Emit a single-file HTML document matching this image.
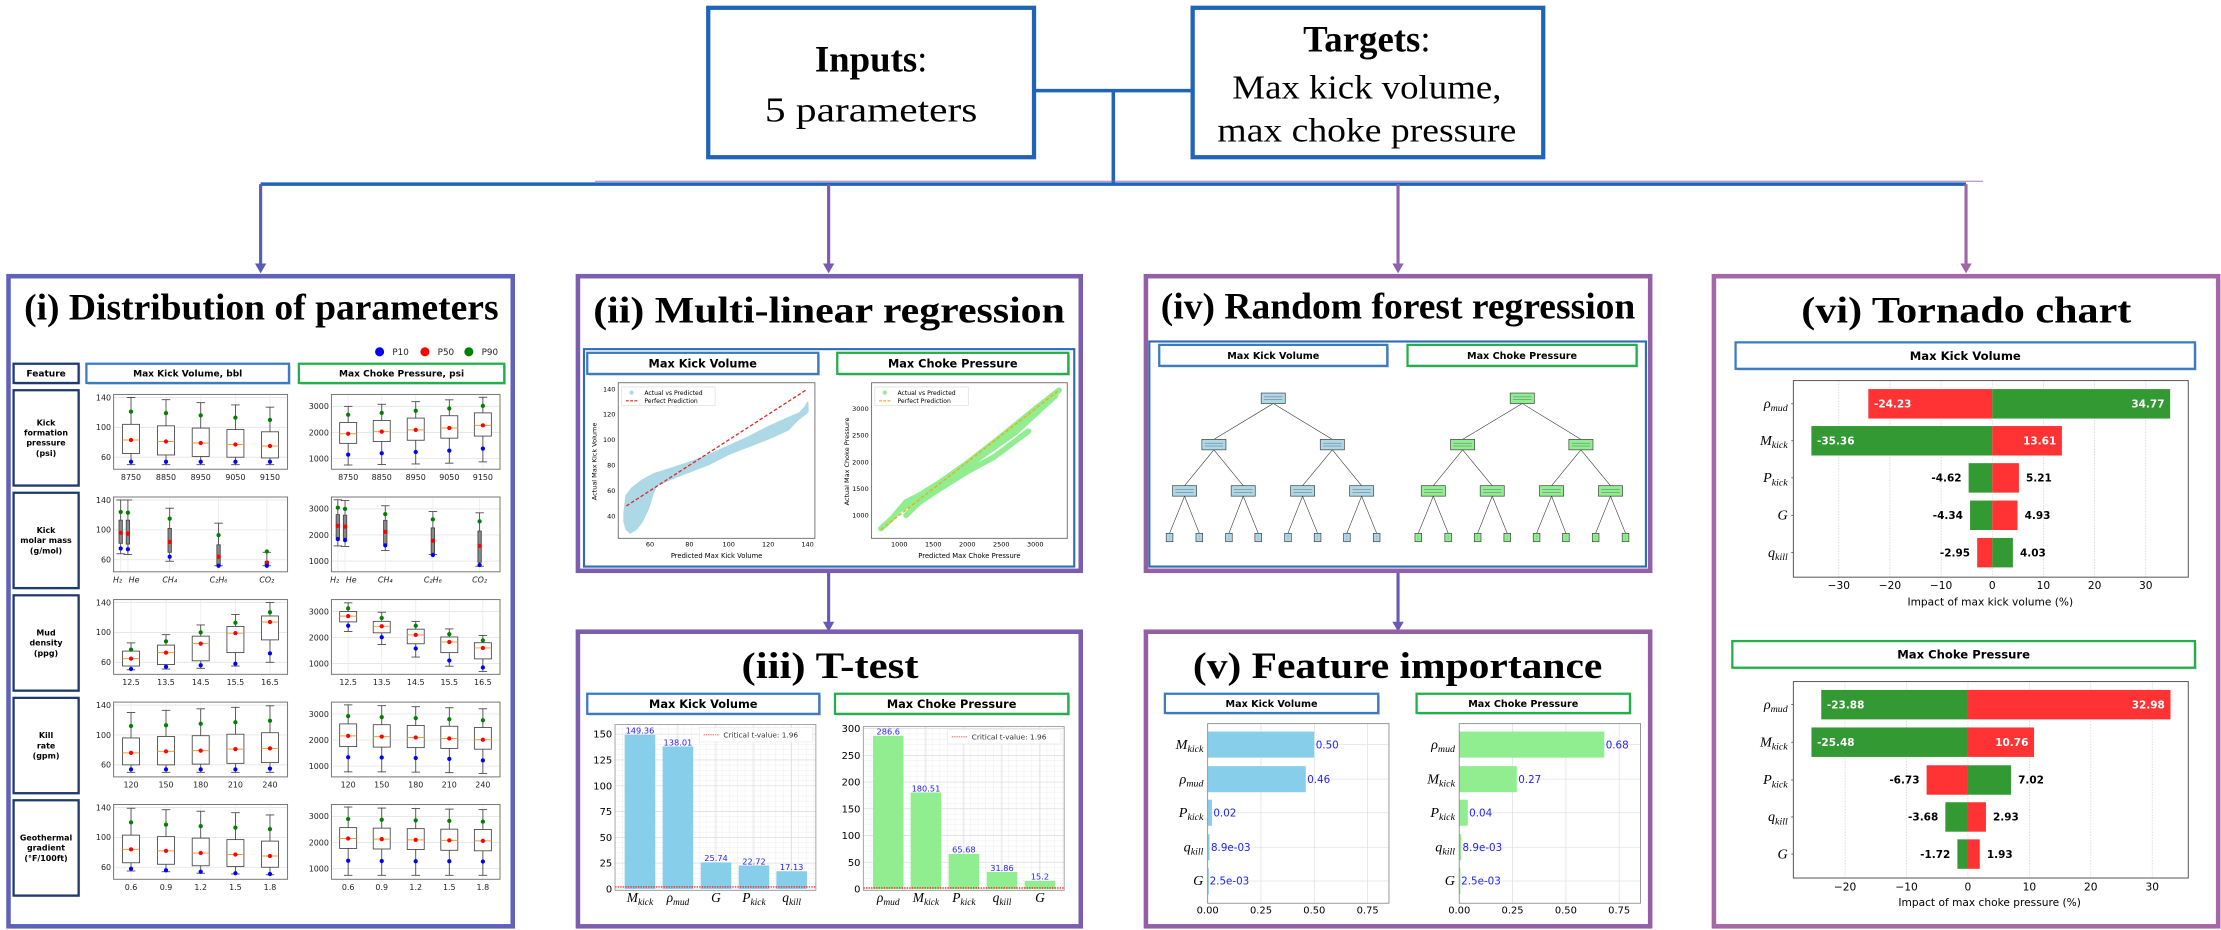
<!DOCTYPE html>
<html><head><meta charset="utf-8">
<style>
html,body{margin:0;padding:0;background:#fff;}
svg{display:block;}
text{font-family:"DejaVu Sans","Liberation Sans",sans-serif;}
.tm{font-family:"Liberation Serif","DejaVu Serif",serif;}
</style></head>
<body>
<svg id="s" xmlns="http://www.w3.org/2000/svg" width="2221" height="930" viewBox="0 0 1568 656.6" preserveAspectRatio="none">
<rect x="0" y="0" width="1568" height="656.6" fill="#fff"/>
<rect x="500" y="5.5" width="230" height="105.5" fill="#fff" stroke="#1f64b8" stroke-width="3"/>
<rect x="842" y="5.5" width="247.5" height="105.5" fill="#fff" stroke="#1f64b8" stroke-width="3"/>
<text class="tm" x="615" y="50.6" font-size="26" text-anchor="middle"><tspan font-weight="bold">Inputs</tspan>:</text>
<text class="tm" x="615" y="85.9" font-size="25" text-anchor="middle" textLength="150" lengthAdjust="spacingAndGlyphs">5 parameters</text>
<text class="tm" x="965" y="36.5" font-size="26" text-anchor="middle"><tspan font-weight="bold">Targets</tspan>:</text>
<text class="tm" x="965" y="69.4" font-size="24" text-anchor="middle" textLength="190" lengthAdjust="spacingAndGlyphs">Max kick volume,</text>
<text class="tm" x="965" y="100" font-size="24" text-anchor="middle" textLength="211" lengthAdjust="spacingAndGlyphs">max choke pressure</text>
<line x1="731" y1="64" x2="841" y2="64" stroke="#1f64b8" stroke-width="2.5"/>
<line x1="786" y1="64" x2="786" y2="130" stroke="#1f64b8" stroke-width="2.5"/>
<line x1="184" y1="130" x2="1388" y2="130" stroke="#1f64b8" stroke-width="2.5"/>
<line x1="420" y1="128" x2="1400" y2="128" stroke="#8a64b4" stroke-width="1" opacity="0.6"/>
</svg>
<script>
const S=document.getElementById('s');const NS='http://www.w3.org/2000/svg';
function el(t,a,p){const e=document.createElementNS(NS,t);for(const k in a)e.setAttribute(k,a[k]);(p||S).appendChild(e);return e;}
function tx(x,y,s,sz,a){a=a||{};a.x=x;a.y=y;a['font-size']=sz;const e=el('text',a);e.textContent=s;return e;}
function line(x1,y1,x2,y2,c,w,extra){const a={x1,y1,x2,y2,stroke:c,'stroke-width':w};if(extra)Object.assign(a,extra);return el('line',a);}
function rect(x,y,w,h,f,st,sw,extra){const a={x,y,width:w,height:h,fill:f,stroke:st||'none','stroke-width':sw||0};if(extra)Object.assign(a,extra);return el('rect',a);}
function arrowDown(x,y1,y2,c){line(x,y1,x,y2-5,c,2.2);el('polygon',{points:`${x-4},${y2-7} ${x+4},${y2-7} ${x},${y2}`,fill:c});}
function math(x,y,sym,sub,sz,anchor){const e=el('text',{x,y,'font-size':sz,'text-anchor':anchor||'end','font-style':'italic',class:'tm'});const a=el('tspan',{},e);a.textContent=sym;if(sub){const b=el('tspan',{'font-size':sz*0.7,dy:sz*0.22},e);b.textContent=sub;}return e;}
function hbox(x,y,w,h,c,label,sz){rect(x+1.2,y+1.2,w,h,'#ccc');rect(x,y,w,h,'#fff',c,1.6);tx(x+w/2,y+h/2+sz*0.36,label,sz,{'text-anchor':'middle','font-weight':'bold'});}

arrowDown(184,130,193,'#5a5ab8');
arrowDown(585,130,193,'#7a5aaf');
arrowDown(987,130,193,'#8f62ad');
arrowDown(1388,130,193,'#a065a8');
arrowDown(585,403,446,'#6a5ab5');
arrowDown(987,403,446,'#6a5ab5');

function panel(x,y,w,h,c){rect(x,y,w,h,'#fff',c,3.2);}
panel(6,195,356,459,'#5f62b8');
panel(408,195,355,208,'#7b5eaf');
panel(408,446,355,208,'#7b5eaf');
panel(809,195,356,208,'#955fa8');
panel(809,446,356,208,'#955fa8');
panel(1210,195,356,459,'#a567a6');

function title(cx,y,s,w,sz){tx(cx,y,s,sz||26,{'text-anchor':'middle','font-weight':'bold',class:'tm',textLength:w,lengthAdjust:'spacingAndGlyphs'});}
title(184.5,225.7,'(i) Distribution of parameters',335);
title(585.3,227.7,'(ii) Multi-linear regression',333);
title(586,478.8,'(iii) T-test',125);
title(987,224.8,'(iv) Random forest regression',335);
title(986.7,478.8,'(v) Feature importance',289);
title(1388.2,227.7,'(vi) Tornado chart',233);

// ===== Panel (i)
[[268,'#0000ff','P10'],[300,'#ff0000','P50'],[331,'#008000','P90']].forEach(([x,c,l])=>{el('circle',{cx:x,cy:248.4,r:3.2,fill:c});tx(x+9,250.6,l,6.2,{fill:'#222'});});
hbox(9.6,256.8,45.9,13.6,'#1f3a6e','Feature',6.4);
hbox(61,256.8,143,13.6,'#3a7cc4','Max Kick Volume, bbl',6.4);
hbox(211,256.8,145,13.6,'#22b04a','Max Choke Pressure, psi',6.4);
const rowTops=[275.5,347.9,420.3,492.7,565];
const feats=[["Kick","formation","pressure","(psi)"],["Kick","molar mass","(g/mol)"],["Mud","density","(ppg)"],["Kill","rate","(gpm)"],["Geothermal","gradient","(°F/100ft)"]];
const xlabs=[["8750","8850","8950","9050","9150"],["H₂","He","CH₄","C₂H₆","CO₂"],["12.5","13.5","14.5","15.5","16.5"],["120","150","180","210","240"],["0.6","0.9","1.2","1.5","1.8"]];
const L=[
[[50,65,83,104,140,54,121],[50,63,81,102,137,54,119],[50,61,79,99,133,54,116],[50,60,77,97,130,54,113],[50,59,75,94,127,54,110]],
[[68,82,96,113,140,75,124],[67,81,95,113,140,74,123],[58,70,84,102,129,64,115],[52,52,64,80,109,52,93],[52,53,56,58,70,52,71]],
[[50,55,65,75,86,51,77],[51,57,73,83,97,54,88],[52,62,85,95,110,56,100],[55,73,99,108,124,58,113],[60,90,114,122,140,72,127]],
[[50,60,76,96,130,54,112],[50,60,78,98,133,54,113],[50,61,79,99,135,54,115],[50,62,81,101,137,54,117],[50,63,82,103,139,55,119]],
[[55,66,84,103,139,58,120],[54,64,82,101,137,56,117],[52,62,79,99,135,54,115],[51,61,77,97,133,52,113],[50,60,75,95,130,51,111]]];
const R=[
[[750,1580,1950,2380,3000,1150,2680],[770,1650,2030,2460,3080,1200,2750],[790,1700,2100,2550,3180,1250,2830],[820,1780,2170,2640,3250,1300,2920],[870,1860,2270,2750,3350,1380,3020]],
[[1580,1900,2350,2780,3350,1840,3050],[1560,1880,2320,2760,3320,1800,3000],[1400,1650,2120,2560,3120,1600,2800],[1250,1300,1780,2270,2900,1230,2600],[800,950,1580,2150,2850,850,2520]],
[[2230,2600,2820,3000,3330,2450,3120],[1730,2180,2430,2620,2970,2010,2750],[1250,1760,2100,2320,2620,1580,2450],[900,1420,1830,2020,2330,1120,2130],[700,1180,1600,1800,2080,850,1890]],
[[780,1750,2160,2620,3350,1340,2920],[780,1730,2130,2590,3320,1330,2880],[770,1710,2100,2560,3280,1310,2840],[750,1680,2060,2530,3240,1280,2800],[720,1650,2010,2480,3200,1220,2760]],
[[740,1770,2150,2570,3360,1300,2900],[740,1750,2130,2550,3320,1290,2870],[740,1730,2100,2530,3300,1280,2850],[740,1700,2080,2510,3280,1280,2830],[740,1680,2060,2500,3260,1270,2800]]];
const xsL=[92.5,117.2,141.7,166.2,190.6],xsR=[245.8,269.5,293.5,317.2,340.9];
const gL=[85.2,90.3,119.8,154.3,188.4],gR=[238.5,243.6,272,305.6,338.6];
function drawBox(x,d,yf,w,gas){const [lo,q1,md,q3,hi,p10,p90]=d;
 line(x,yf(hi),x,yf(q3),'#444',0.6);line(x,yf(q1),x,yf(lo),'#444',0.6);
 line(x-3,yf(hi),x+3,yf(hi),'#444',0.6);line(x-3,yf(lo),x+3,yf(lo),'#444',0.6);
 rect(x-w/2,yf(q3),w,Math.max(0.5,yf(q1)-yf(q3)),gas?'#888':'#fff','#444',0.6);
 line(x-w/2,yf(md),x+w/2,yf(md),'#ff9933',0.7);
 el('circle',{cx:x,cy:yf(md),r:1.5,fill:'#ff0000'});el('circle',{cx:x,cy:yf(p10),r:1.5,fill:'#0000ff'});el('circle',{cx:x,cy:yf(p90),r:1.5,fill:'#008000'});}
rowTops.forEach((rt,i)=>{
 rect(10.6,rt+1,45.9,67.3,'#ccc');rect(9.6,rt,45.9,67.3,'#fff','#1f3a6e',1.6);
 const f=feats[i];const y0=rt+33.6-(f.length-1)*3.6+2;
 f.forEach((s,j)=>tx(32.5,y0+j*7.2,s,5.6,{'text-anchor':'middle','font-weight':'bold'}));
 const top=rt+3,bot=rt+55.8;
 const yl=v=>top+2.1+(140-v)/80*42.2, yr=v=>top+8.4+(3000-v)/2000*36.8;
 [[80.2,203,yl,[140,100,60],xsL,gL,L[i]],[234,353,yr,[3000,2000,1000],xsR,gR,R[i]]].forEach(([ax0,ax1,yf,ticks,xs,gs,D],k)=>{
  const X=i==1?gs:xs;
  ticks.forEach(t=>{line(ax0,yf(t),ax1,yf(t),'#e4e4e4',0.6);tx(ax0-1.8,yf(t)+2,String(t),5.6,{'text-anchor':'end',fill:'#222'});});
  X.forEach(x=>line(x,top,x,bot,'#ececec',0.6));
  rect(ax0,top,ax1-ax0,bot-top,'none','#777',0.7);
  D.forEach((d,j)=>drawBox(X[j],d,yf,i==1?2.4:12,i==1));
  xlabs[i].forEach((s,j)=>{let xx=X[j],an='middle';if(i==1&&j==0){xx=X[j]+1;an='end';}if(i==1&&j==1){xx=X[j]+0.5;an='start';}
   tx(xx,bot+7.5,s,5.6,{'text-anchor':an,fill:'#222','font-style':i==1?'italic':'normal'});});
 });
});

// ===== Panel (ii)
rect(412.3,246.5,346.1,153.5,'#fff','#2e6db5',1.5);
hbox(414.6,249.1,163.1,14.9,'#3a7cc4','Max Kick Volume',8);
hbox(591.1,249.1,163.1,14.9,'#22b04a','Max Choke Pressure',8);
const xL=v=>402.4+(240+(v-60)*5.91)/4.25, yL=v=>190.6+(283+(140-v)*3.02)/3.366;
const xR=v=>402.4+(988+(v-1000)*0.204)/4.25, yR=v=>190.6+(583-(v-1000)*0.1265)/3.366;
rect(436.5,270.2,138.8,109.9,'#fff','#777',0.7);
rect(615.3,270.2,138.2,109.9,'#fff','#777',0.7);
[60,80,100,120,140].forEach(v=>tx(xL(v),386,String(v),4.6,{'text-anchor':'middle'}));
[40,60,80,100,120,140].forEach(v=>tx(434.5,yL(v)+1.6,String(v),4.6,{'text-anchor':'end'}));
[1000,1500,2000,2500,3000].forEach(v=>tx(xR(v),386,String(v),4.6,{'text-anchor':'middle'}));
[1000,1500,2000,2500,3000].forEach(v=>tx(613.3,yR(v)+1.6,String(v),4.6,{'text-anchor':'end'}));
tx(505.9,394,'Predicted Max Kick Volume',4.8,{'text-anchor':'middle'});
tx(684.4,394,'Predicted Max Choke Pressure',4.8,{'text-anchor':'middle'});
tx(0,0,'Actual Max Kick Volume',4.6,{'text-anchor':'middle',transform:'translate(421,325.8) rotate(-90)'});
tx(0,0,'Actual Max Choke Pressure',4.6,{'text-anchor':'middle',transform:'translate(599.5,325.8) rotate(-90)'});
const band=[[47,42],[48,56],[51,62],[56,68],[62,73],[70,77],[80,82],[90,88],[100,95],[110,102],[120,110],[130,117],[136,121],[139,126],[140,129],[140,122],[135,116],[130,108],[120,101],[110,95],[100,89],[90,81],[80,75],[70,69],[63,64],[61,56],[59,46],[56,36],[53,30],[50,27],[48,30],[47,36]];
el('polygon',{points:band.map(p=>xL(p[0])+','+yL(p[1])).join(' '),fill:'#add8e6','stroke':'#add8e6','stroke-width':1.5,'stroke-linejoin':'round'});
line(xL(48),yL(48),xL(139),yL(139),'#e82020',0.9,{'stroke-dasharray':'2.5,1.5'});
[[[730,750],[900,950],[1100,1250],[1300,1380],[1600,1620],[2000,1980],[2500,2480],[3000,3000],[3350,3350]],
 [[1100,1000],[1300,1250],[1600,1500],[2000,1820],[2400,2100],[2900,2580]],
 [[1000,1100],[1300,1300],[1700,1600],[2200,2100],[2700,2550],[3300,3250]]].forEach(pts=>{
 el('polyline',{points:pts.map(p=>xR(p[0])+','+yR(p[1])).join(' '),fill:'none',stroke:'#90ee90','stroke-width':4,'stroke-linejoin':'round','stroke-linecap':'round'});});
line(xR(730),yR(730),xR(3350),yR(3350),'#ffa500',0.9,{'stroke-dasharray':'2.5,1.5'});
function legend2(x,y,c,dash){rect(x,y,66,13,'#fff','#ddd',0.5);el('circle',{cx:x+7,cy:y+4,r:1.5,fill:c});line(x+3,y+9.8,x+11,y+9.8,dash,0.8,{'stroke-dasharray':'2,1'});tx(x+16,y+5.6,'Actual vs Predicted',4.3);tx(x+16,y+11.3,'Perfect Prediction',4.3);}
legend2(438.9,273.2,'#add8e6','#e82020');legend2(617.6,273.2,'#90ee90','#ffa500');

// ===== Panel (iii)
hbox(414.6,489.8,163.8,14.2,'#3a7cc4','Max Kick Volume',8);
hbox(589.5,489.8,164.7,14.2,'#22b04a','Max Choke Pressure',8);
function ttest(ax0,ax1,top,yf,ticks,step,xs,vals,labs,col,leg){
 const bot=yf(0);
 for(let v=0;v<=ticks[ticks.length-1]+step;v+=step/5){if(yf(v)>=top)line(ax0,yf(v),ax1,yf(v),'#f0f0f0',0.4);}
 for(let x=ax0;x<ax1;x+=5.4)line(x,top,x,bot,'#f0f0f0',0.4);
 ticks.forEach(t=>{line(ax0,yf(t),ax1,yf(t),'#ddd',0.5);tx(ax0-2,yf(t)+2.5,String(t),7,{'text-anchor':'end'});});
 xs.forEach(x=>line(x,top,x,bot,'#ddd',0.5));
 xs.forEach((x,j)=>{rect(x-10.8,yf(vals[j]),21.6,bot-yf(vals[j]),col);tx(x,yf(vals[j])-0.8,String(vals[j]),5.8,{'text-anchor':'middle',fill:'#2222ff'});});
 line(ax0,yf(1.96),ax1,yf(1.96),'#ff0000',0.8,{'stroke-dasharray':'1,0.8'});
 rect(ax0,top,ax1-ax0,bot-top+1,'none','#999',0.6);
 rect(leg,top+2.3,80,10,'#fff','#e6e6e6',0.4);line(leg+3,top+7.3,leg+14,top+7.3,'#ff4444',0.6,{'stroke-dasharray':'1,0.6'});
 tx(leg+17,top+9.3,'Critical t-value: 1.96',5.2,{fill:'#333'});
 labs.forEach((l,j)=>math(xs[j],637,l[0],l[1],9.5,'middle'));
}
const ybL=v=>190.6+(1471-v*2.453)/3.366, ybR=v=>190.6+(1471-v*1.27)/3.366;
ttest(434.2,576,511.5,ybL,[0,25,50,75,100,125,150],25,[451.8,478.6,505.5,532.3,558.9],[149.36,138.01,25.74,22.72,17.13],[["M","kick"],["ρ","mud"],["G",""],["P","kick"],["q","kill"]],'#87ceeb',493.7);
ttest(609.5,751.3,512.9,ybR,[0,50,100,150,200,250,300],50,[627.1,653.7,680.5,707.4,734.2],[286.6,180.51,65.68,31.86,15.2],[["ρ","mud"],["M","kick"],["P","kick"],["q","kill"],["G",""]],'#90ee90',669);

// ===== Panel (iv)
rect(811.4,241.1,350.6,158.9,'#fff','#2e6db5',1.5);
hbox(818.4,243.5,161,14.8,'#3a7cc4','Max Kick Volume',6.8);
hbox(993.7,243.5,161.7,14.8,'#22b04a','Max Choke Pressure',6.8);
function tree(root,l2,l3,leaves,col){
 const n=(x,y,w,h)=>{rect(x-w/2,y-h/2,w,h,col,'#444',0.5);line(x-w/2+2,y-1,x+w/2-2,y-1,'#556',0.3);line(x-w/2+2,y+1,x+w/2-2,y+1,'#556',0.3);};
 l2.forEach(x=>line(root,284.9,x,310.2,'#333',0.4));
 l3.forEach((x,i)=>line(l2[i>>1],317.6,x,342.9,'#333',0.4));
 leaves.forEach((x,i)=>line(l3[i>>1],350.3,x,376.5,'#333',0.4));
 n(root,281.2,17,7.4);l2.forEach(x=>n(x,313.9,17,7.4));l3.forEach(x=>n(x,346.6,17,7.4));leaves.forEach(x=>n(x,379.5,4.7,5.9));
}
tree(898.9,[857,940.6],[836.3,877.7,919.6,961.3],[825.7,846.7,867.6,888.3,909.3,930.2,950.9,971.9],'#add8e6');
tree(1074.7,[1032.6,1116.1],[1011.9,1053.5,1095.4,1137.0],[1001.3,1022.4,1043.2,1064.1,1084.8,1105.5,1126.5,1147.6],'#90ee90');

// ===== Panel (v)
hbox(822.4,489.8,150.6,13.6,'#3a7cc4','Max Kick Volume',6.8);
hbox(1000.1,489.8,150.6,13.6,'#22b04a','Max Choke Pressure',6.8);
function fi(ax0,vals,labs,col,lblfmt){
 const ax1=ax0+128,top=510.9,bot=637.7,xf=v=>ax0+v/0.25*37.65;
 [0,0.25,0.5,0.75].forEach(t=>{line(xf(t),top,xf(t),bot,'#ddd',0.5);tx(xf(t),645.1,t.toFixed(2),7,{'text-anchor':'middle'});});
 const ys=[525.7,550.1,573.8,598.2,622];
 ys.forEach((y,j)=>{line(ax0,y,ax1,y,'#e4e4e4',0.5);rect(ax0,y-9.2,Math.max(0.8,xf(vals[j])-ax0),18.4,col);
  tx(xf(vals[j])+1,y+2.6,lblfmt[j],7.3,{fill:'#2222ff'});math(ax0-3,y+3,labs[j][0],labs[j][1],10,'end');});
 rect(ax0,top,ax1-ax0,bot-top,'none','#888',0.6);
}
fi(852.6,[0.50,0.46,0.02,0.0089,0.0025],[["M","kick"],["ρ","mud"],["P","kick"],["q","kill"],["G",""]],'#87ceeb',['0.50','0.46','0.02','8.9e-03','2.5e-03']);
fi(1030.2,[0.68,0.27,0.04,0.0089,0.0025],[["ρ","mud"],["M","kick"],["P","kick"],["q","kill"],["G",""]],'#90ee90',['0.68','0.27','0.04','8.9e-03','2.5e-03']);

// ===== Panel (vi)
hbox(1225.3,241.7,324.3,18.7,'#3a7cc4','Max Kick Volume',8.2);
hbox(1223,452.6,326.6,18.8,'#22b04a','Max Choke Pressure',8.2);
const G='#339933',Rd='#ff3333';
function tornado(top,bot,xf,ticks,rows,ys,bh,xlab,labY,tickY){
 const ax0=1266.1,ax1=1544.9;
 ticks.forEach(t=>{line(xf(t),top,xf(t),bot,'#ccc',0.5,{'stroke-dasharray':'1,1'});tx(xf(t),tickY,(t<0?'−':'')+Math.abs(t),7.5,{'text-anchor':'middle'});});
 rows.forEach((r,j)=>{const [lab,neg,negc,pos,posc,inside]=r;const y=ys[j];
  rect(xf(neg),y-bh/2,xf(0)-xf(neg),bh,negc);rect(xf(0),y-bh/2,xf(pos)-xf(0),bh,posc);
  if(inside){tx(xf(neg)+4,y+2.6,String(neg.toFixed(2)),7.4,{fill:'#fff','font-weight':'bold'});tx(xf(pos)-4,y+2.6,pos.toFixed(2),7.4,{fill:'#fff','font-weight':'bold','text-anchor':'end'});}
  else{tx(xf(neg)-5,y+2.6,neg.toFixed(2),7.4,{'font-weight':'bold','text-anchor':'end'});tx(xf(pos)+5,y+2.6,pos.toFixed(2),7.4,{'font-weight':'bold'});}
  line(ax0-1.5,y,ax0,y,'#333',0.5);math(ax0-4,y+3,lab[0],lab[1],10,'end');});
 rect(ax0,top,ax1-ax0,bot-top,'none','#555',0.7);
 tx(xf(0)+(xlab[1]||0),labY,xlab[0],7.5,{'text-anchor':'middle'});
}
const x1=v=>1203.7+(862+v*15.35)/4.25, x2=v=>1203.7+(789+v*18.43)/4.25;
tornado(268.7,407.5,x1,[-30,-20,-10,0,10,20,30],[
 [["ρ","mud"],-24.23,Rd,34.77,G,1],[["M","kick"],-35.36,G,13.61,Rd,1],[["P","kick"],-4.62,G,5.21,Rd,0],[["G",""],-4.34,G,4.93,Rd,0],[["q","kill"],-2.95,Rd,4.03,G,0]],
 [285.1,311.2,337.4,363.8,390.2],20.8,['Impact of max kick volume (%)',-1.4],427.4,415.8);
tornado(481.2,619.9,x2,[-20,-10,0,10,20,30],[
 [["ρ","mud"],-23.88,G,32.98,Rd,1],[["M","kick"],-25.48,G,10.76,Rd,1],[["P","kick"],-6.73,Rd,7.02,G,0],[["q","kill"],-3.68,G,2.93,Rd,0],[["G",""],-1.72,G,1.93,Rd,0]],
 [497.5,524,550.7,576.8,603],20.8,['Impact of max choke pressure (%)',15.3],639.8,628.8);
</script>
</body></html>
